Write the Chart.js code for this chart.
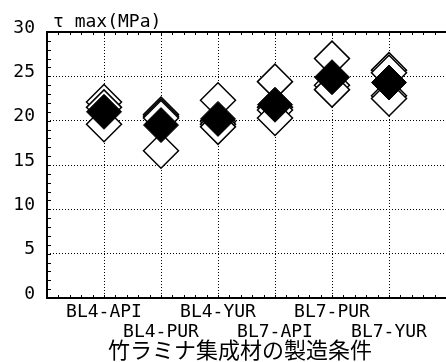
<!DOCTYPE html>
<html>
<head>
<meta charset="utf-8">
<script src="https://cdn.jsdelivr.net/npm/chart.js@4/dist/chart.umd.min.js"></script>
<style>
  body { margin: 0; background: #fff; }
  #wrap { width: 446px; height: 362px; }
</style>
</head>
<body>
<div id="wrap"><canvas id="myChart" width="446" height="362"></canvas></div>
<script>
// categories and values
var categories = ['BL4-API', 'BL4-PUR', 'BL4-YUR', 'BL7-API', 'BL7-PUR', 'BL7-YUR'];
var specimenValues = [
  [22.1, 21.5, 19.6],
  [20.7, 20.5, 20.3, 16.6],
  [22.3, 19.9, 19.6, 19.3],
  [24.4, 21.5, 21.2, 20.3],
  [27.0, 24.0, 23.5],
  [25.7, 25.4, 22.8, 22.5]
];
var meanValues = [21.0, 19.5, 20.2, 21.8, 24.9, 24.3];
var yTicks = [0, 5, 10, 15, 20, 25, 30];
var yTitle = 'τ max(MPa)';
var xTitle = '竹ラミナ集成材の製造条件';

var openPoints = [];
specimenValues.forEach(function (vals, i) {
  vals.forEach(function (v) { openPoints.push({ x: i, y: v }); });
});
var meanPoints = meanValues.map(function (v, i) { return { x: i, y: v }; });

var monoFont = { family: '"DejaVu Sans Mono", monospace', size: 18, lineHeight: 1.11 };

// frame, minor ticks and titles
var framePlugin = {
  id: 'frame',
  afterDraw: function (chart) {
    var ctx = chart.ctx, a = chart.chartArea;
    var x = chart.scales.x, y = chart.scales.y;
    ctx.save();
    ctx.strokeStyle = '#000';
    ctx.lineWidth = 2;
    ctx.beginPath();
    ctx.moveTo(a.right, a.top);
    ctx.lineTo(a.left, a.top);
    ctx.lineTo(a.left, a.bottom);
    ctx.lineTo(a.right, a.bottom);
    ctx.stroke();

    ctx.lineWidth = 1;
    ctx.beginPath();
    for (var v = 1; v < 30; v++) {
      var py = Math.round(y.getPixelForValue(v)) + 0.5;
      ctx.moveTo(a.left, py);
      ctx.lineTo(a.left + 4, py);
    }
    for (var i = -4; i < 35; i++) {
      var px = Math.round(x.getPixelForValue(i / 5)) + 0.5;
      ctx.moveTo(px, a.bottom);
      ctx.lineTo(px, a.bottom - 3);
      ctx.moveTo(px, a.top);
      ctx.lineTo(px, a.top + 3);
    }
    ctx.stroke();

    ctx.fillStyle = '#000';
    ctx.font = '18px "DejaVu Sans Mono", monospace';
    ctx.textAlign = 'left';
    ctx.textBaseline = 'alphabetic';
    ctx.fillText(yTitle, 53, 27);

    ctx.font = '22px "Noto Sans CJK JP", sans-serif';
    ctx.textAlign = 'center';
    ctx.textBaseline = 'middle';
    ctx.fillText(xTitle, 240, 350);
    ctx.restore();
  }
};

var ctx = document.getElementById('myChart').getContext('2d');
var myChart = new Chart(ctx, {
  type: 'scatter',
  data: {
    datasets: [
      {
        label: 'mean',
        data: meanPoints,
        pointStyle: 'rectRot',
        pointRadius: 17.5,
        pointHoverRadius: 17.5,
        pointBackgroundColor: '#000',
        pointBorderColor: '#000',
        pointBorderWidth: 1,
        clip: false,
        order: 0
      },
      {
        label: 'specimens',
        data: openPoints,
        pointStyle: 'rectRot',
        pointRadius: 17.5,
        pointHoverRadius: 17.5,
        pointBackgroundColor: '#fff',
        pointBorderColor: '#000',
        pointBorderWidth: 1.5,
        clip: false,
        order: 1
      }
    ]
  },
  options: {
    responsive: false,
    animation: false,
    devicePixelRatio: 1,
    layout: { autoPadding: false, padding: { top: 32, left: 0, right: 0, bottom: 0 } },
    plugins: {
      legend: { display: false },
      tooltip: { enabled: false }
    },
    scales: {
      x: {
        type: 'linear',
        min: -1,
        max: 6,
        afterFit: function (s) {
          s.height = 64;
          s.paddingLeft = 0;
          s.paddingRight = 0;
        },
        ticks: {
          stepSize: 1,
          autoSkip: false,
          maxRotation: 0,
          minRotation: 0,
          padding: 4,
          color: '#000',
          font: monoFont,
          callback: function (value) {
            var i = Math.round(value);
            if (i < 0 || i >= categories.length) return '';
            return i % 2 === 0 ? [categories[i], ''] : ['', categories[i]];
          }
        },
        grid: {
          drawTicks: false,
          lineWidth: 1,
          color: function (c) {
            var v = c.tick ? c.tick.value : 0;
            return (v <= -1 || v >= 6) ? 'rgba(0,0,0,0)' : '#000';
          }
        },
        border: { display: false, dash: [1, 2] }
      },
      y: {
        min: 0,
        max: 30,
        afterFit: function (s) { s.width = 47; },
        afterBuildTicks: function (s) {
          s.ticks = yTicks.map(function (v) { return { value: v }; });
        },
        ticks: {
          padding: 12,
          labelOffset: -4,
          color: '#000',
          font: monoFont
        },
        grid: {
          drawTicks: false,
          lineWidth: 1,
          color: function (c) {
            var v = c.tick ? c.tick.value : 0;
            return (v <= 0 || v >= 30) ? 'rgba(0,0,0,0)' : '#000';
          }
        },
        border: { display: false, dash: [1, 2] }
      }
    }
  },
  plugins: [framePlugin]
});
</script>
</body>
</html>
